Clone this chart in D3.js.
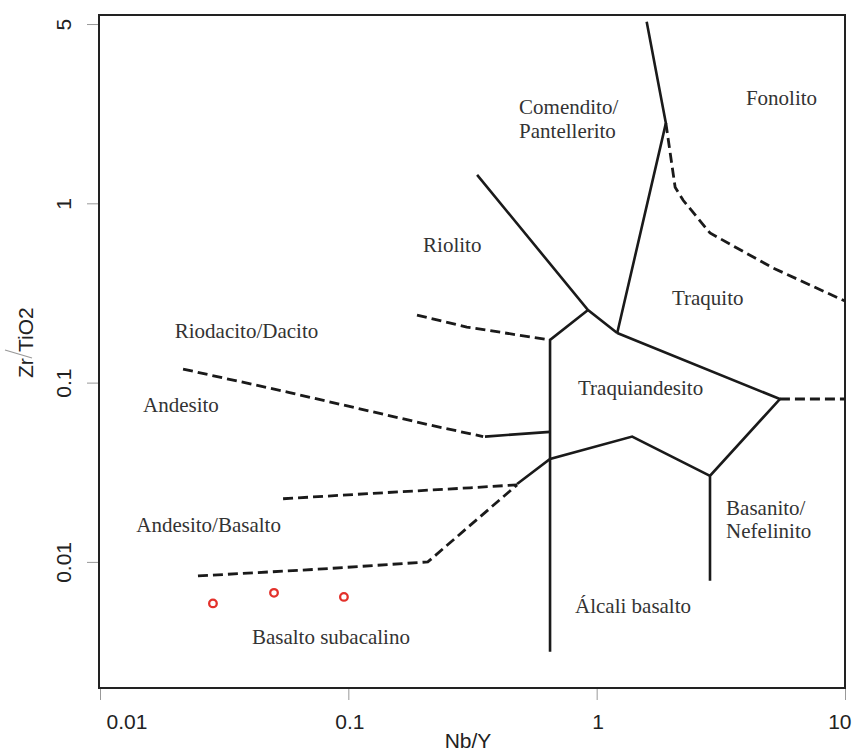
<!DOCTYPE html>
<html>
<head>
<meta charset="utf-8">
<script src="https://cdn.jsdelivr.net/npm/d3@7"></script>
<style>
  body { margin: 0; background: #fff; }
  .region-label { font-family: "Liberation Serif", "Times New Roman", serif; font-size: 21px; fill: #333; }
  .axis text { font-family: "Liberation Sans", Arial, sans-serif; font-size: 21px; fill: #222; }
  .axis line { stroke: #999; stroke-width: 1; }
</style>
</head>
<body>
<div class="chart"></div>
<script>
//Data (Nb/Y, Zr/TiO2)
const xTicks = [0.01, 0.1, 1, 10];
const xTickLabels = ["0.01", "0.1", "1", "10"];
const yTicks = [0.01, 0.1, 1, 10];
const yTickLabels = ["0.01", "0.1", "1", "5"];

const solidLines = [
  [[1.59, 10.3], [1.90, 2.8], [1.21, 0.189]],
  [[0.33, 1.44], [0.923, 0.254], [1.21, 0.189]],
  [[0.923, 0.254], [0.649, 0.173], [0.649, 0.00315]],
  [[1.21, 0.189], [5.47, 0.081], [2.86, 0.0302], [2.86, 0.00784]],
  [[2.86, 0.0302], [1.39, 0.050], [0.649, 0.0375], [0.478, 0.0272]],
  [[0.355, 0.050], [0.649, 0.0531]]
];

const dashedLines = [
  [[5.47, 0.081], [10, 0.081]],
  [[0.189, 0.238], [0.30, 0.204], [0.649, 0.173]],
  [[0.0216, 0.119], [0.058, 0.088], [0.213, 0.058], [0.349, 0.050]],
  [[0.0546, 0.0225], [0.138, 0.0243], [0.309, 0.0259], [0.478, 0.0269]],
  [[0.0248, 0.00835], [0.0791, 0.00914], [0.209, 0.0100], [0.478, 0.0269]],
  [[1.90, 2.8], [2.07, 1.23], [2.23, 1.04], [2.86, 0.683], [5.13, 0.436], [10, 0.285]]
];

const samples = [[0.0285, 0.00587], [0.0502, 0.00672], [0.096, 0.00638]];

const regionLabels = [
  {text: "Comendito/", x: 0.487, y: 3.15},
  {text: "Pantellerito", x: 0.487, y: 2.31},
  {text: "Fonolito", x: 3.99, y: 3.53},
  {text: "Riolito", x: 0.200, y: 0.536},
  {text: "Traquito", x: 2.01, y: 0.271},
  {text: "Riodacito/Dacito", x: 0.0200, y: 0.177},
  {text: "Andesito", x: 0.0149, y: 0.0686},
  {text: "Traquiandesito", x: 0.841, y: 0.0853},
  {text: "Andesito/Basalto", x: 0.0140, y: 0.0147},
  {text: "Basanito/", x: 3.32, y: 0.0183},
  {text: "Nefelinito", x: 3.32, y: 0.0136},
  {text: "Álcali basalto", x: 0.818, y: 0.0052},
  {text: "Basalto subacalino", x: 0.0409, y: 0.00349}
];

//Create svg
const W = 854, H = 752;
const svg = d3.select('.chart')
  .append('svg')
  .attr('width', W)
  .attr('height', H);

//Scales
const xScale = d3.scaleLog().domain([0.01, 10]).range([100, 845]);
const yScale = d3.scaleLog().domain([0.00198, 11.23]).range([688, 15]);

//Axes
const xAxis = d3.axisBottom(xScale)
  .tickValues(xTicks)
  .tickSize(12)
  .tickPadding(14)
  .tickFormat((d, i) => xTickLabels[i]);

const yAxis = d3.axisLeft(yScale)
  .tickValues(yTicks)
  .tickSize(12)
  .tickFormat((d, i) => yTickLabels[i]);

const xAxisG = svg.append('g')
  .attr('class', 'axis x-axis')
  .attr('transform', 'translate(0,688)')
  .call(xAxis);
xAxisG.select('.domain').remove();
xAxisG.selectAll('.tick text')
  .attr('text-anchor', (d, i) => i === 0 ? 'start' : (i === xTicks.length - 1 ? 'end' : 'middle'))
  .attr('dx', (d, i) => i === 0 ? 6 : (i === xTicks.length - 1 ? 6 : 1));

const yAxisG = svg.append('g')
  .attr('class', 'axis y-axis')
  .attr('transform', 'translate(99,0)')
  .call(yAxis);
yAxisG.select('.domain').remove();
yAxisG.selectAll('.tick text')
  .attr('x', 0)
  .attr('dy', 0)
  .attr('text-anchor', 'middle')
  .attr('transform', 'translate(-28,0) rotate(-90)');

//Plot box
svg.append('rect')
  .attr('x', xScale(0.01) - 1)
  .attr('y', yScale(11.23))
  .attr('width', xScale(10) - xScale(0.01) + 1)
  .attr('height', yScale(0.00198) - yScale(11.23))
  .attr('fill', 'none')
  .attr('stroke', '#222')
  .attr('stroke-width', 2);

//Field boundaries
const line = d3.line()
  .x(d => xScale(d[0]))
  .y(d => yScale(d[1]));

svg.selectAll('.solid')
  .data(solidLines)
  .enter()
  .append('path')
  .attr('class', 'solid')
  .attr('d', line)
  .attr('fill', 'none')
  .attr('stroke', '#1a1a1a')
  .attr('stroke-width', 2.6)
  .attr('stroke-linejoin', 'miter');

svg.selectAll('.dashed')
  .data(dashedLines)
  .enter()
  .append('path')
  .attr('class', 'dashed')
  .attr('d', line)
  .attr('fill', 'none')
  .attr('stroke', '#1a1a1a')
  .attr('stroke-width', 2.8)
  .attr('stroke-dasharray', '10,5');

//Field names
svg.selectAll('.region-label')
  .data(regionLabels)
  .enter()
  .append('text')
  .attr('class', 'region-label')
  .attr('x', d => xScale(d.x))
  .attr('y', d => yScale(d.y))
  .text(d => d.text);

//Samples
svg.selectAll('.sample')
  .data(samples)
  .enter()
  .append('circle')
  .attr('class', 'sample')
  .attr('cx', d => xScale(d[0]))
  .attr('cy', d => yScale(d[1]))
  .attr('r', 3.8)
  .attr('fill', 'none')
  .attr('stroke', '#e3312b')
  .attr('stroke-width', 2.3);

//Axis titles
svg.append('text')
  .attr('x', 468)
  .attr('y', 748)
  .attr('text-anchor', 'middle')
  .style('font-family', '"Liberation Sans", Arial, sans-serif')
  .style('font-size', '21px')
  .style('fill', '#222')
  .text('Nb/Y');

const yTitle = svg.append('g')
  .attr('transform', 'translate(33,378) rotate(-90)')
  .style('font-family', '"Liberation Sans", Arial, sans-serif')
  .style('font-size', '21px')
  .style('fill', '#222');
yTitle.append('text').attr('x', 0).attr('y', 0).text('Zr');
yTitle.append('line')
  .attr('x1', 20).attr('y1', -1)
  .attr('x2', 28).attr('y2', -28)
  .attr('stroke', '#999')
  .attr('stroke-width', 1.2);
yTitle.append('text').attr('x', 26).attr('y', 0).text('TiO2');
</script>
</body>
</html>
